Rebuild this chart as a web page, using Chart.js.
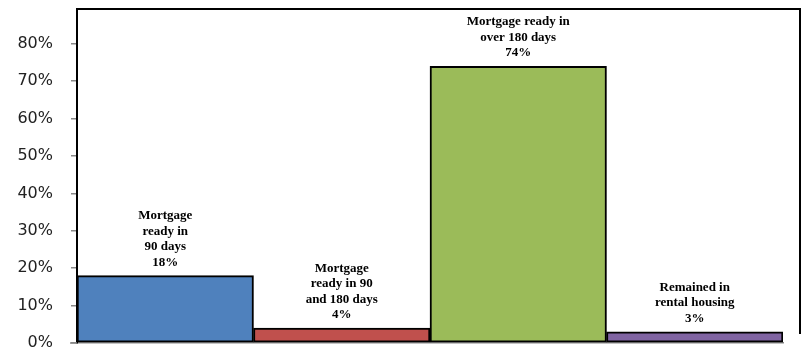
<!DOCTYPE html>
<html lang="en">

<head>
  <meta charset="UTF-8">
  <title>Mortgage Readiness</title>
  <style>
    html, body { margin: 0; padding: 0; background: #fff; }
    #wrap { width: 802px; height: 350px; }
  </style>
</head>

<body>
  <div id="wrap">
    <canvas id="chart" width="802" height="350"></canvas>
  </div>

  <script src="https://cdn.jsdelivr.net/npm/chart.js"></script>
  <script>
    // categories and values
    const categories = ['Mortgage ready in 90 days', 'Mortgage ready in 90 and 180 days', 'Mortgage ready in over 180 days', 'Remained in rental housing'];
    const shares = [0.18, 0.04, 0.74, 0.03];
    const labelLines = [
      ['Mortgage', 'ready in', '90 days', '18%'],
      ['Mortgage', 'ready in 90', 'and 180 days', '4%'],
      ['Mortgage ready in', 'over 180 days', '74%'],
      ['Remained in', 'rental housing', '3%']
    ];
    const tickValues = [0, 0.1, 0.2, 0.3, 0.4, 0.5, 0.6, 0.7, 0.8];
    const barColors = ['#4F81BD', '#C0504D', '#9BBB59', '#8064A2'];

    // text above each bar
    const barLabels = {
      id: 'barLabels',
      afterDatasetsDraw(chart) {
        const ctx = chart.ctx;
        const meta = chart.getDatasetMeta(0);
        ctx.save();
        ctx.font = 'bold 13px "Liberation Serif", "Times New Roman", serif';
        ctx.fillStyle = '#000';
        ctx.textAlign = 'center';
        ctx.textBaseline = 'alphabetic';
        meta.data.forEach((bar, i) => {
          const lines = labelLines[i];
          const lh = 15.5;
          let y = bar.y - 10 - (lines.length - 1) * lh;
          lines.forEach(line => {
            ctx.fillText(line, bar.x, y);
            y += lh;
          });
        });
        ctx.restore();
      }
    };

    // frame and axis extension like the original
    const frame = {
      id: 'frame',
      afterDraw(chart) {
        const { ctx, chartArea } = chart;
        ctx.save();
        ctx.strokeStyle = '#000';
        ctx.lineWidth = 2;
        ctx.beginPath();
        ctx.moveTo(chartArea.left, chartArea.top);
        ctx.lineTo(chartArea.right + 17, chartArea.top);
        ctx.lineTo(chartArea.right + 17, chartArea.bottom - 9);
        ctx.stroke();
        ctx.strokeStyle = '#888';
        ctx.lineWidth = 1.5;
        ctx.beginPath();
        ctx.moveTo(chartArea.left - 7, chartArea.bottom);
        ctx.lineTo(chartArea.left, chartArea.bottom);
        ctx.stroke();
        ctx.restore();
      }
    };

    new Chart(document.getElementById('chart'), {
      type: 'bar',
      data: {
        labels: categories,
        datasets: [{
          data: shares,
          backgroundColor: barColors,
          borderColor: '#000',
          borderWidth: 2,
          borderSkipped: false,
          barPercentage: 1,
          categoryPercentage: 1
        }]
      },
      options: {
        responsive: false,
        animation: false,
        layout: { autoPadding: false, padding: { top: 9, right: 19, bottom: 7, left: 0 } },
        plugins: {
          legend: { display: false },
          tooltip: { enabled: false }
        },
        scales: {
          x: {
            afterFit(scale) { scale.height = 0; },
            ticks: { display: false },
            grid: { display: false },
            border: { color: '#888', width: 1.5 }
          },
          y: {
            min: 0,
            max: 0.893,
            afterFit(scale) {
              scale.width = 77;
              scale.paddingTop = 0;
              scale.paddingBottom = 0;
            },
            afterBuildTicks(scale) {
              scale.ticks = tickValues.map(v => ({ value: v }));
            },
            ticks: {
              padding: 18,
              color: '#222',
              font: { family: '"DejaVu Sans", sans-serif', size: 16 },
              callback: v => Math.round(v * 100) + '%'
            },
            grid: {
              drawOnChartArea: false,
              tickLength: 6,
              color: '#888',
              lineWidth: 1.5
            },
            border: { color: '#000', width: 2 }
          }
        }
      },
      plugins: [barLabels, frame]
    });
  </script>
</body>

</html>
